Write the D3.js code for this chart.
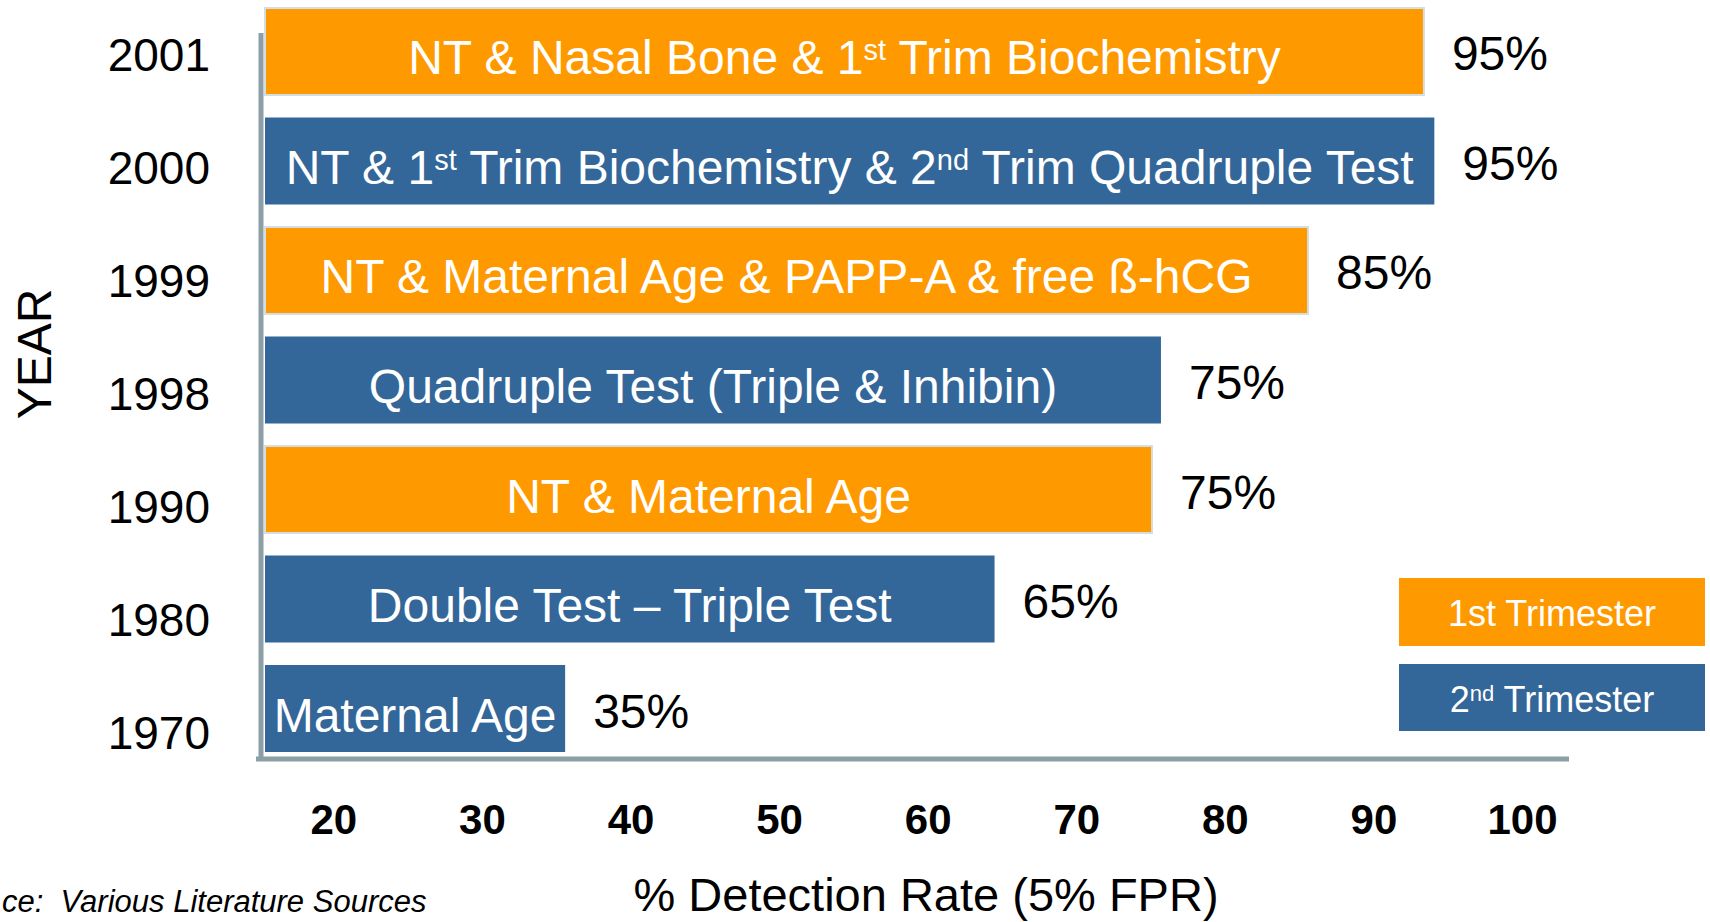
<!DOCTYPE html>
<html>
<head>
<meta charset="utf-8">
<script src="https://cdn.jsdelivr.net/npm/d3@7"></script>
<style>
  html, body { margin: 0; padding: 0; background: #fff; }
  svg { display: block; font-family: "Liberation Sans", Arial, sans-serif; }
  text { white-space: pre; }
</style>
</head>
<body>
<div id="chart"></div>
<script>
const width = 1710;
const height = 922;

// data, top bar first
const years = ['2001', '2000', '1999', '1998', '1990', '1980', '1970'];
const barValues = [93.4, 94.1, 85.6, 75.7, 75.1, 64.5, 35.6];
const rateLabels = ['95%', '95%', '85%', '75%', '75%', '65%', '35%'];
const trimester = [1, 2, 1, 2, 1, 2, 2];
const barLabels = [
  'NT & Nasal Bone & 1^{st} Trim Biochemistry',
  'NT & 1^{st} Trim Biochemistry & 2^{nd} Trim Quadruple Test',
  'NT & Maternal Age & PAPP-A & free ß-hCG',
  'Quadruple Test (Triple & Inhibin)',
  'NT & Maternal Age',
  'Double Test – Triple Test',
  'Maternal Age'
];
const xTicks = [20, 30, 40, 50, 60, 70, 80, 90, 100];
const legendLabels = ['1st Trimester', '2^{nd} Trimester'];
const xMin = 15.4;

const colors = { 1: '#FF9900', 2: '#336699' };
const axisColor = '#8C9FA6';

const x = d3.scaleLinear().domain([xMin, 100]).range([265, 1522]);
const y = d3.scaleBand().domain(years).range([8, 752]).paddingInner(0.2055).paddingOuter(0);
const yLabel = d3.scalePoint().domain(years).range([54, 732]);

const svg = d3.select('#chart').append('svg')
    .attr('width', width)
    .attr('height', height);

// split "1^{st}" style markup into tspans
function richText(sel, str, size) {
  const parts = str.split(/(\^\{.*?\})/).filter(p => p.length);
  const sup = Math.round(size * 0.6);
  const rise = Math.round(size * 0.3);
  let pending = 0;
  parts.forEach(p => {
    const m = p.match(/^\^\{(.*)\}$/);
    if (m) {
      sel.append('tspan').attr('font-size', sup).attr('dy', -rise).text(m[1]);
      pending = rise;
    } else {
      const t = sel.append('tspan').text(p);
      if (pending) { t.attr('dy', pending); pending = 0; }
    }
  });
}

const rows = years.map((yr, i) => ({
  year: yr, value: barValues[i], rate: rateLabels[i], tri: trimester[i], label: barLabels[i]
}));

// bars
svg.append('g')
  .selectAll('rect')
  .data(rows)
  .join('rect')
    .attr('x', x(xMin))
    .attr('y', d => y(d.year))
    .attr('width', d => x(d.value) - x(xMin))
    .attr('height', y.bandwidth())
    .attr('fill', d => colors[d.tri])
    .attr('stroke', d => d.tri === 1 ? '#D3DEE2' : 'none')
    .attr('stroke-width', 2);

// labels inside bars
svg.append('g')
    .attr('font-size', 48)
    .attr('fill', '#fff')
    .attr('text-anchor', 'middle')
  .selectAll('text')
  .data(rows)
  .join('text')
    .attr('x', d => (x(xMin) + x(d.value)) / 2)
    .attr('y', d => y(d.year) + y.bandwidth() / 2 + 23)
    .each(function(d) { richText(d3.select(this), d.label, 48); });

// rate labels
svg.append('g')
    .attr('font-size', 48)
    .attr('fill', '#000')
  .selectAll('text')
  .data(rows)
  .join('text')
    .attr('x', d => x(d.value) + 28)
    .attr('y', d => y(d.year) + y.bandwidth() / 2 + 19)
    .text(d => d.rate);

// year labels
svg.append('g')
    .attr('font-size', 46)
    .attr('text-anchor', 'end')
  .selectAll('text')
  .data(years)
  .join('text')
    .attr('x', 210)
    .attr('y', d => yLabel(d) + 17)
    .text(d => d);

// axis lines
svg.append('line')
    .attr('x1', 261).attr('x2', 261)
    .attr('y1', 33).attr('y2', 761)
    .attr('stroke', axisColor).attr('stroke-width', 5);
svg.append('line')
    .attr('x1', 256).attr('x2', 1569)
    .attr('y1', 759).attr('y2', 759)
    .attr('stroke', axisColor).attr('stroke-width', 5);

// x tick labels
const xAxis = svg.append('g')
    .attr('transform', 'translate(0,800)')
    .call(d3.axisBottom(x).tickValues(xTicks).tickSize(0).tickPadding(0).tickFormat(d3.format('d')));
xAxis.select('.domain').remove();
xAxis.selectAll('text')
    .attr('font-family', '"Liberation Sans", Arial, sans-serif')
    .attr('font-size', 42)
    .attr('font-weight', 'bold')
    .attr('fill', '#000')
    .attr('dy', 0)
    .attr('y', 34);

// axis titles
svg.append('text')
    .attr('transform', 'translate(51,354) rotate(-90)')
    .attr('text-anchor', 'middle')
    .attr('font-size', 48)
    .text('YEAR');

svg.append('text')
    .attr('x', 926)
    .attr('y', 911)
    .attr('text-anchor', 'middle')
    .attr('font-size', 47)
    .text('% Detection Rate (5% FPR)');

// source note, its left part is cropped off in the original
svg.append('text')
    .attr('x', 2)
    .attr('y', 912)
    .attr('font-size', 31)
    .attr('font-style', 'italic')
    .text('ce:  Various Literature Sources');

// legend
const legend = svg.append('g')
  .selectAll('g')
  .data(legendLabels)
  .join('g')
    .attr('transform', (d, i) => `translate(1399,${578 + i * 86})`);
legend.append('rect')
    .attr('width', 306)
    .attr('height', (d, i) => i === 0 ? 68 : 67)
    .attr('fill', (d, i) => colors[i + 1]);
legend.append('text')
    .attr('x', 153)
    .attr('y', 48)
    .attr('text-anchor', 'middle')
    .attr('font-size', 36)
    .attr('fill', '#fff')
    .each(function(d) { richText(d3.select(this), d, 36); });
</script>
</body>
</html>
